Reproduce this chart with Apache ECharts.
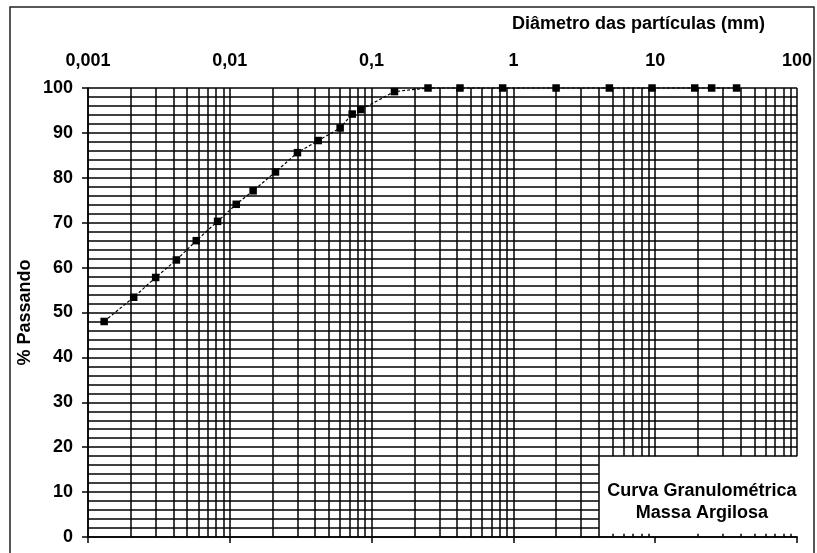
<!DOCTYPE html>
<html><head><meta charset="utf-8">
<script src="https://cdn.jsdelivr.net/npm/echarts@6/dist/echarts.min.js"></script>
<style>html,body{margin:0;padding:0;background:#fff}#c{width:817px;height:553px}</style>
</head><body><div id="c"></div>
<script>
// ---- data ----
const diameters = [0.0013, 0.0021, 0.0030, 0.0042, 0.0058, 0.0082, 0.0111, 0.0146, 0.021, 0.030, 0.042, 0.060, 0.073, 0.084, 0.145, 0.25, 0.42, 0.84, 2.0, 4.75, 9.5, 19, 25, 37.5];
const passing   = [48.0, 53.4, 57.8, 61.7, 66.0, 70.3, 74.1, 77.1, 81.3, 85.6, 88.3, 91.1, 94.2, 95.2, 99.2, 100, 100, 100, 100, 100, 100, 100, 100, 100];
const xTickLabels = ['0,001', '0,01', '0,1', '1', '10', '100'];
const titleText = 'Diâmetro das partículas (mm)';
const yAxisName = '% Passando';
const boxLines = ['Curva Granulométrica', 'Massa Argilosa'];

const X_MIN = 0.001, X_MAX = 100, Y_MIN = 0, Y_MAX = 100;
const BOX_X = 4, BOX_Y = 18;   // corner of the caption box (data units)
const FONT = 'Liberation Sans, Arial, sans-serif';

// grid lines (log minor verticals, every-2 horizontals), box region left empty
const gridLines = [];
for (let e = -3; e < 2; e++) {
  for (let m = 1; m < 10; m++) {
    const x = +(m * Math.pow(10, e)).toPrecision(3);
    const y0 = x > BOX_X ? BOX_Y : Y_MIN;
    gridLines.push([{ coord: [x, y0] }, { coord: [x, Y_MAX] }]);
    if (x > BOX_X && m !== 1) {
      gridLines.push([{ coord: [x, Y_MIN] }, { coord: [x, 0.7] }]);
    }
  }
}
gridLines.push([{ coord: [X_MAX, BOX_Y] }, { coord: [X_MAX, Y_MAX] }]);
for (let y = 2; y <= Y_MAX; y += 2) {
  const xe = y < BOX_Y ? BOX_X : X_MAX;
  gridLines.push([{ coord: [X_MIN, y] }, { coord: [xe, y] }]);
}

const chart = echarts.init(document.getElementById('c'), null, { renderer: 'canvas' });
const labelStyle = { color: '#000', fontSize: 18, fontWeight: 'bold', fontFamily: FONT };
const axisLineStyle = { color: '#000', width: 1.5 };

chart.setOption({
  animation: false,
  backgroundColor: '#fff',
  title: {
    text: titleText, left: 507, top: 10,
    textStyle: { color: '#000', fontSize: 18, fontWeight: 'bold', fontFamily: FONT }
  },
  grid: { left: 88, right: 20, top: 88, bottom: 16, containLabel: false },
  xAxis: [
    {
      type: 'log', logBase: 10, min: X_MIN, max: X_MAX, position: 'top',
      axisLine: { show: true, lineStyle: axisLineStyle },
      axisTick: { show: false },
      splitLine: { show: false },
      axisLabel: {
        margin: 18, ...labelStyle,
        formatter: v => xTickLabels[Math.round(Math.log10(v)) + 3]
      }
    },
    {
      type: 'log', logBase: 10, min: X_MIN, max: X_MAX, position: 'bottom',
      axisLine: { show: true, lineStyle: axisLineStyle },
      axisTick: { show: true, length: 6, lineStyle: axisLineStyle },
      splitLine: { show: false },
      axisLabel: { show: false }
    }
  ],
  yAxis: {
    type: 'value', min: Y_MIN, max: Y_MAX, interval: 10,
    name: yAxisName, nameLocation: 'middle', nameRotate: 90, nameGap: 54,
    nameMoveOverlap: false,
    nameTextStyle: labelStyle,
    axisLine: { show: true, lineStyle: axisLineStyle },
    axisTick: { show: true, length: 6, lineStyle: axisLineStyle },
    splitLine: { show: false },
    axisLabel: { margin: 15, ...labelStyle }
  },
  series: [
    {
      type: 'line', xAxisIndex: 0, yAxisIndex: 0, data: [], z: 1, silent: true,
      markLine: {
        silent: true, symbol: ['none', 'none'], label: { show: false },
        animation: false, emphasis: { disabled: true },
        lineStyle: { color: '#000', width: 1.5, type: 'solid', opacity: 1 },
        data: gridLines
      }
    },
    {
      type: 'line', xAxisIndex: 0, yAxisIndex: 0, z: 5, clip: false,
      data: diameters.map((d, i) => [d, passing[i]]),
      symbol: 'rect', symbolSize: 7.5, showSymbol: true,
      itemStyle: { color: '#000' },
      lineStyle: { color: '#000', width: 1.2, type: [3, 2] }
    }
  ]
});

const p0 = chart.convertToPixel({ xAxisIndex: 0, yAxisIndex: 0 }, [BOX_X, BOX_Y]);
const p1 = chart.convertToPixel({ xAxisIndex: 0, yAxisIndex: 0 }, [X_MAX, Y_MIN]);
chart.setOption({
  graphic: [
    {
      type: 'rect', shape: { x: 10, y: 7, width: 804, height: 600 },
      style: { fill: 'none', stroke: '#222', lineWidth: 1.5 }, silent: true
    },
    {
      type: 'text', x: (p0[0] + p1[0]) / 2 + 4, y: (p0[1] + p1[1]) / 2 + 5,
      style: {
        text: boxLines.join('\n'), textAlign: 'center', textVerticalAlign: 'middle',
        fill: '#000', fontSize: 18, fontWeight: 'bold', fontFamily: FONT, lineHeight: 22
      }
    }
  ]
});
</script></body></html>
